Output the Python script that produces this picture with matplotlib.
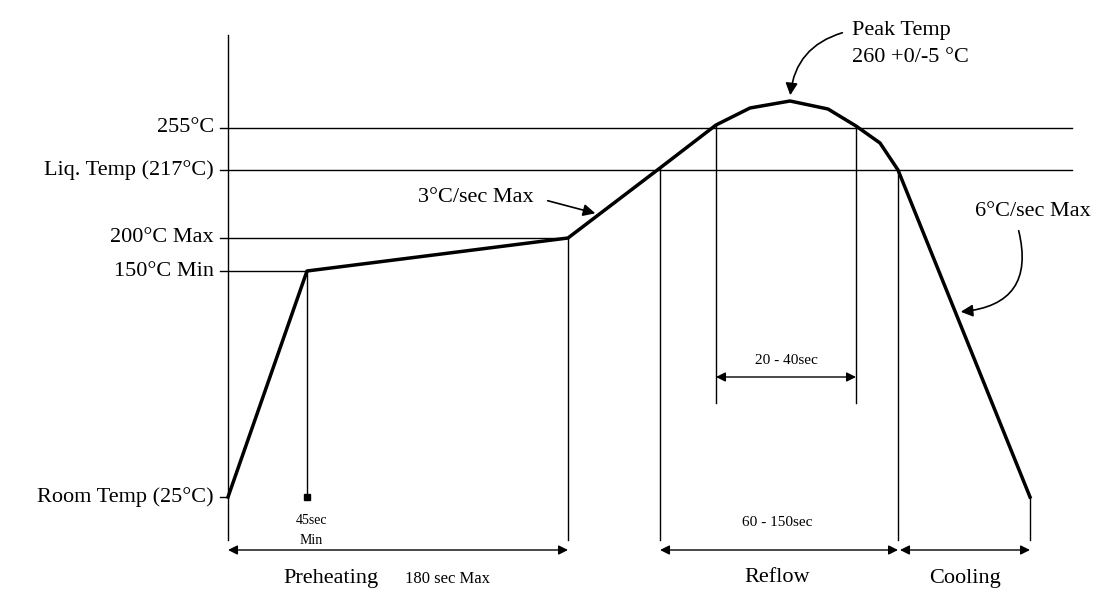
import matplotlib.pyplot as plt
from matplotlib.patches import FancyArrowPatch

plt.rcParams['font.family'] = ['Liberation Serif', 'DejaVu Serif']

# schematic reflow profile, in drawing units (x: time axis, y: temperature axis, inverted)
profile_x = [228, 307, 568, 660, 716, 750, 790, 828, 856, 880, 898, 1030]
profile_y = [497, 271, 238, 168, 125, 108, 101, 109, 126, 143, 170, 497]

# temperature levels: label, level, right end of guide line
level_labels = ['255°C', 'Liq. Temp (217°C)', '200°C Max', '150°C Min', 'Room Temp (25°C)']
level_y = [128, 170, 238, 271, 497]
level_end = [1072, 1072, 568, 307, 228]

# vertical markers: x, top, bottom
vert_x = [307, 568, 660, 716, 856, 898, 1030, 228]
vert_top = [271, 238, 168, 125, 126, 170, 497, 35]
vert_bot = [497, 540, 540, 403, 403, 540, 540, 540]

# dimension arrows: start, end, y
dim_start = [228, 660, 900, 716]
dim_end = [568, 898, 1030, 856]
dim_y = [550, 550, 550, 377]

fig = plt.figure(figsize=(10.99, 6.05), dpi=100)
ax = fig.add_axes([0, 0, 1, 1])
ax.set_xlim(0, 1099)
ax.set_ylim(605, 0)
ax.axis('off')

ax.plot(profile_x, profile_y, color='black', lw=2.5, solid_joinstyle='round')

for lab, y, xe in zip(level_labels, level_y, level_end):
    ax.plot([220, xe], [y, y], color='black', lw=1)
    ax.text(214, y, lab, ha='right', va='center', fontsize=16)

for x, t, b in zip(vert_x, vert_top, vert_bot):
    ax.plot([x, x], [t, b], color='black', lw=1)

ax.plot([307], [497], 's', color='black', ms=4)

for s, e, y in zip(dim_start, dim_end, dim_y):
    ax.annotate('', xy=(e, y), xytext=(s, y),
                arrowprops=dict(arrowstyle='<|-|>', color='black', lw=1,
                                mutation_scale=14, shrinkA=0, shrinkB=0))

ax.text(283, 578, 'Preheating', ha='left', va='center', fontsize=16)
ax.text(405, 579, '180 sec Max', ha='left', va='center', fontsize=12)
ax.text(777, 578, 'Reflow', ha='center', va='center', fontsize=16)
ax.text(965, 578, 'Cooling', ha='center', va='center', fontsize=16)
ax.text(777, 522, '60 - 150sec', ha='center', va='center', fontsize=11)
ax.text(786, 360, '20 - 40sec', ha='center', va='center', fontsize=11)
ax.text(311, 520, '45sec', ha='center', va='center', fontsize=10)
ax.text(311, 541, 'Min', ha='center', va='center', fontsize=10)

ax.text(852, 30, 'Peak Temp', ha='left', va='center', fontsize=16)
ax.text(852, 58, '260 +0/-5 °C', ha='left', va='center', fontsize=16)
ax.text(418, 197, '3°C/sec Max', ha='left', va='center', fontsize=16)
ax.text(975, 212, '6°C/sec Max', ha='left', va='center', fontsize=16)

arrows = [((845, 32), (790, 98), 'arc3,rad=0.35'),
          ((545, 200), (598, 214), 'arc3,rad=0'),
          ((1018, 228), (958, 312), 'arc3,rad=-0.6')]
for a, b, cs in arrows:
    ax.add_patch(FancyArrowPatch(a, b, connectionstyle=cs, arrowstyle='-|>',
                                 mutation_scale=18, lw=1.2, color='black'))

fig.savefig('out.png', dpi=100)
